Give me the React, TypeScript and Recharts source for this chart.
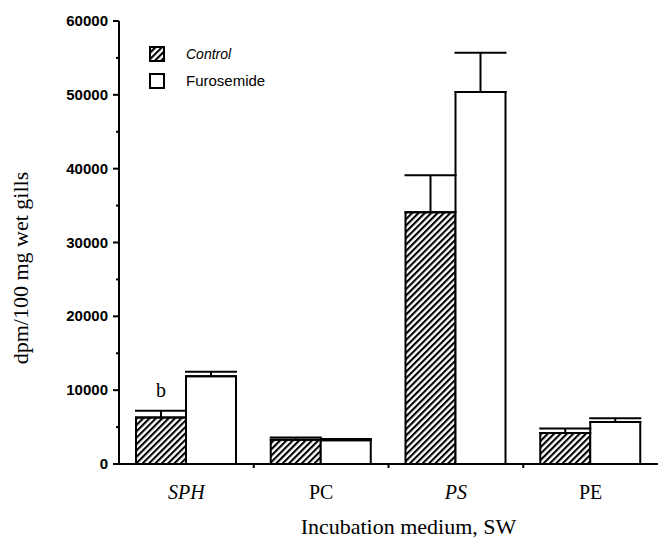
import React from "react";
import { BarChart, Bar, XAxis, YAxis, Legend, ErrorBar, LabelList } from "recharts";

const categories = ["SPH", "PC", "PS", "PE"];
const italicCategories = ["SPH", "PS"];
const control = [6300, 3300, 34100, 4200];
const controlErr = [900, 300, 5000, 600];
const furosemide = [11900, 3200, 50400, 5700];
const furosemideErr = [600, 200, 5300, 500];
const notes = ["b", "", "", ""];
const yTicks = [0, 5000, 10000, 15000, 20000, 25000, 30000, 35000, 40000, 45000, 50000, 55000, 60000];
const yLabelled = [0, 10000, 20000, 30000, 40000, 50000, 60000];

const data = categories.map((name, i) => ({
  name,
  control: control[i],
  controlErr: [0, controlErr[i]],
  furosemide: furosemide[i],
  furosemideErr: [0, furosemideErr[i]],
  note: notes[i],
}));

const serif = "'Liberation Serif', 'DejaVu Serif', serif";
const sans = "'Liberation Sans', Arial, sans-serif";

// y ticks: long tick + label every 10000, short tick halfway
const YTick = (props: any) => {
  const { x, y, payload } = props;
  const major = yLabelled.includes(payload.value);
  return (
    <g>
      <line x1={x - (major ? 6 : 3)} x2={x} y1={y} y2={y} stroke="#000" strokeWidth={2} />
      {major && (
        <text x={x - 11} y={y} dy={5} textAnchor="end" fontFamily={sans} fontSize={15} fontWeight="bold" fill="#000">
          {payload.value}
        </text>
      )}
    </g>
  );
};

// x ticks: label in the middle, tick mark on the boundary between groups
const XTick = (props: any) => {
  const { x, y, payload, index, width } = props;
  const off = payload.offset || (width ? width / (categories.length * 2) : 0);
  return (
    <g>
      {index < categories.length - 1 && off > 0 && (
        <line x1={x + off} x2={x + off} y1={y} y2={y + 4} stroke="#000" strokeWidth={2} />
      )}
      <text
        x={x}
        y={y + 35}
        textAnchor="middle"
        fontFamily={serif}
        fontSize={20}
        fontStyle={italicCategories.includes(payload.value) ? "italic" : "normal"}
        fill="#000"
      >
        {payload.value}
      </text>
    </g>
  );
};

const LegendBox = (props: any) => {
  const { payload } = props;
  return (
    <div style={{ fontFamily: sans, color: "#000" }}>
      {(payload || []).map((entry: any) => {
        const isCtrl = entry.dataKey === "control";
        return (
          <div key={entry.value} style={{ display: "flex", alignItems: "center", height: 27 }}>
            <svg width={16} height={16} style={{ marginRight: 21 }}>
              <defs>
                <pattern id="hatchLegend" width={4.5} height={4.5} patternUnits="userSpaceOnUse" patternTransform="rotate(45)">
                  <rect width={4.5} height={4.5} fill="#fff" />
                  <line x1={1} y1={0} x2={1} y2={4.5} stroke="#000" strokeWidth={2.2} />
                </pattern>
              </defs>
              <rect x={1} y={1} width={14} height={14} fill={isCtrl ? "url(#hatchLegend)" : "#fff"} stroke="#000" strokeWidth={2} />
            </svg>
            <span style={{ fontSize: isCtrl ? 14 : 15, fontStyle: isCtrl ? "italic" : "normal" }}>{entry.value}</span>
          </div>
        );
      })}
    </div>
  );
};

const NoteLabel = (props: any) => {
  const { x, y, width, value } = props;
  if (!value) return null;
  return (
    <text x={x + width / 2} y={y - 20} textAnchor="middle" fontFamily={serif} fontSize={20} fill="#000">
      {value}
    </text>
  );
};

export default function App() {
  return (
    <div style={{ position: "absolute", left: 0, top: 0, width: 658, height: 538, background: "#fff" }}>
      <BarChart
        width={658}
        height={538}
        data={data}
        margin={{ top: 21, right: 0, bottom: 0, left: 0 }}
        barSize={50}
        barGap={0}
      >
        <defs>
          <pattern id="hatchCtrl" width={4.5} height={4.5} patternUnits="userSpaceOnUse" patternTransform="rotate(45)">
            <rect width={4.5} height={4.5} fill="#fff" />
            <line x1={1} y1={0} x2={1} y2={4.5} stroke="#000" strokeWidth={2.2} />
          </pattern>
        </defs>
        <XAxis
          dataKey="name"
          height={74}
          tickSize={0}
          tickMargin={0}
          tick={<XTick />}
          axisLine={{ stroke: "#000", strokeWidth: 2 }}
          tickLine={false}
          interval={0}
          label={({ viewBox }: any) => (
            <text
              x={viewBox.x + viewBox.width / 2 + 20}
              y={viewBox.y + 70}
              textAnchor="middle"
              fontFamily={serif}
              fontSize={22}
              fill="#000"
            >
              Incubation medium, SW
            </text>
          )}
        />
        <YAxis
          width={119}
          domain={[0, 60000]}
          ticks={yTicks}
          interval={0}
          tickSize={0}
          tickMargin={0}
          tick={<YTick />}
          tickLine={false}
          axisLine={{ stroke: "#000", strokeWidth: 2 }}
          label={() => (
            <text
              x={28}
              y={268}
              transform="rotate(-90, 28, 268)"
              textAnchor="middle"
              fontFamily={serif}
              fontSize={22}
              fill="#000"
            >
              dpm/100 mg wet gills
            </text>
          )}
        />
        <Legend
          layout="horizontal"
          verticalAlign="middle"
          align="center"
          content={<LegendBox />}
          wrapperStyle={{ position: "absolute", left: 149, top: 40, width: 200 }}
        />
        <Bar dataKey="control" name="Control" fill="url(#hatchCtrl)" stroke="#000" strokeWidth={2} isAnimationActive={false}>
          <ErrorBar dataKey="controlErr" width={26} stroke="#000" strokeWidth={2} direction="y" isAnimationActive={false} />
          <LabelList dataKey="note" content={<NoteLabel />} />
        </Bar>
        <Bar dataKey="furosemide" name="Furosemide" fill="#fff" stroke="#000" strokeWidth={2} isAnimationActive={false}>
          <ErrorBar dataKey="furosemideErr" width={26} stroke="#000" strokeWidth={2} direction="y" isAnimationActive={false} />
        </Bar>
      </BarChart>
    </div>
  );
}
